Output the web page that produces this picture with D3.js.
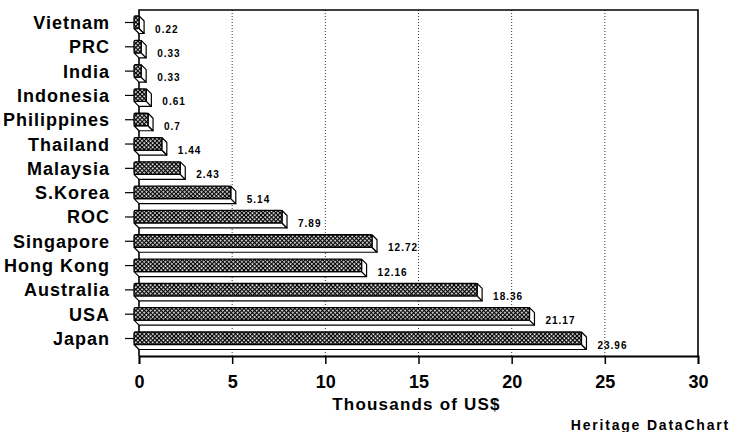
<!DOCTYPE html>
<html>
<head>
<meta charset="utf-8">
<script src="https://cdn.jsdelivr.net/npm/d3@7"></script>
<style>
  html, body { margin: 0; padding: 0; background: #fff; }
  svg { display: block; }
  text { font-family: "Liberation Sans", Arial, sans-serif; font-weight: bold; fill: #000; }
</style>
</head>
<body>
<svg id="chart" width="732" height="432"></svg>
<script>
// Per-capita income by country, thousands of US$
const countries = ["Vietnam", "PRC", "India", "Indonesia", "Philippines", "Thailand", "Malaysia",
                   "S.Korea", "ROC", "Singapore", "Hong Kong", "Australia", "USA", "Japan"];
const incomes = [0.22, 0.33, 0.33, 0.61, 0.7, 1.44, 2.43, 5.14, 7.89, 12.72, 12.16, 18.36, 21.17, 23.96];
const incomeLabels = ["0.22", "0.33", "0.33", "0.61", "0.7", "1.44", "2.43", "5.14", "7.89",
                      "12.72", "12.16", "18.36", "21.17", "23.96"];
const xTicks = [0, 5, 10, 15, 20, 25, 30];
const xTitle = "Thousands of US$";
const credit = "Heritage DataChart";

const svg = d3.select("#chart");
const plot = { left: 139, right: 698, top: 10, bottom: 356 };

const x = d3.scaleLinear().domain([0, 30]).range([plot.left, plot.right]);
const y = d3.scalePoint().domain(countries).range([22.5, 338.5]);

// crosshatch fill for the bar faces
const defs = svg.append("defs");
const pat = defs.append("pattern")
  .attr("id", "hatch")
  .attr("patternUnits", "userSpaceOnUse")
  .attr("width", 3).attr("height", 3)
  .attr("patternTransform", "rotate(45)");
pat.append("rect").attr("width", 3).attr("height", 3).attr("fill", "#fff");
pat.append("path").attr("d", "M0,0.6H3M0.6,0V3").attr("stroke", "#000").attr("stroke-width", 1.35);

// dotted gridlines
svg.append("g")
  .selectAll("line")
  .data(xTicks.filter(t => t > 0 && t < 30))
  .join("line")
  .attr("x1", d => x(d)).attr("x2", d => x(d))
  .attr("y1", plot.top).attr("y2", plot.bottom)
  .attr("stroke", "#000").attr("stroke-width", 0.8)
  .attr("stroke-dasharray", "1,2");

// frame
svg.append("path")
  .attr("d", `M${plot.left},${plot.bottom}V${plot.top}H${plot.right}V${plot.bottom}`)
  .attr("fill", "none").attr("stroke", "#000").attr("stroke-width", 1.6);

// bottom axis
const xAxis = d3.axisBottom(x).tickValues(xTicks).tickSize(8).tickPadding(11).tickFormat(d3.format("d"));
const ax = svg.append("g").attr("transform", `translate(0,${plot.bottom})`).call(xAxis);
ax.select(".domain").attr("stroke", "#000").attr("stroke-width", 1.8);
ax.selectAll(".tick line").attr("stroke", "#000").attr("stroke-width", 1.5);
ax.selectAll(".tick text")
  .attr("font-size", 18).attr("font-family", "Liberation Sans, Arial, sans-serif")
  .attr("font-weight", "bold").attr("fill", "#000");

// category labels and their ticks
const rows = svg.append("g");
rows.selectAll("text")
  .data(countries)
  .join("text")
  .attr("x", 110).attr("y", d => y(d) + 6.5)
  .attr("text-anchor", "end")
  .attr("font-size", 18)
  .attr("letter-spacing", 1)
  .text(d => d);
rows.selectAll("line")
  .data(countries)
  .join("line")
  .attr("x1", 125).attr("x2", 134)
  .attr("y1", d => y(d)).attr("y2", d => y(d))
  .attr("stroke", "#000").attr("stroke-width", 1.2);

// 3D bars: hatched front face, white end and underside faces
const depth = 5, faceH = 12.5;
const bars = svg.append("g")
  .selectAll("g")
  .data(countries.map((c, i) => ({ c, v: incomes[i], label: incomeLabels[i] })))
  .join("g");

bars.each(function (d) {
  const g = d3.select(this);
  const x0 = x(0) - depth, x1 = x(d.v) - depth + 1;
  const top = y(d.c) - 6.5, bot = top + faceH;
  // underside
  g.append("path")
    .attr("d", `M${x0},${bot}L${x1},${bot}L${x1 + depth},${bot + depth}L${x0 + depth},${bot + depth}Z`)
    .attr("fill", "#fff").attr("stroke", "#000").attr("stroke-width", 1.2).attr("stroke-linejoin", "round");
  // end face
  g.append("path")
    .attr("d", `M${x1},${top}L${x1 + depth},${top + depth}L${x1 + depth},${bot + depth}L${x1},${bot}Z`)
    .attr("fill", "#fff").attr("stroke", "#000").attr("stroke-width", 1.2).attr("stroke-linejoin", "round");
  // front face
  g.append("rect")
    .attr("x", x0).attr("y", top)
    .attr("width", x1 - x0).attr("height", faceH)
    .attr("rx", 1.5)
    .attr("fill", "url(#hatch)").attr("stroke", "#000").attr("stroke-width", 1.3);
  // value label
  g.append("text")
    .attr("x", x(d.v) + 12).attr("y", y(d.c) + 10)
    .attr("font-size", 10).attr("letter-spacing", 1)
    .text(d.label);
});

// axis title and credit
svg.append("text")
  .attr("x", x(15) - 2).attr("y", 410)
  .attr("text-anchor", "middle")
  .attr("font-size", 17).attr("letter-spacing", 1.2)
  .text(xTitle);
svg.append("text")
  .attr("x", 730).attr("y", 430)
  .attr("text-anchor", "end")
  .attr("font-size", 14).attr("letter-spacing", 1.8)
  .text(credit);
</script>
</body>
</html>
